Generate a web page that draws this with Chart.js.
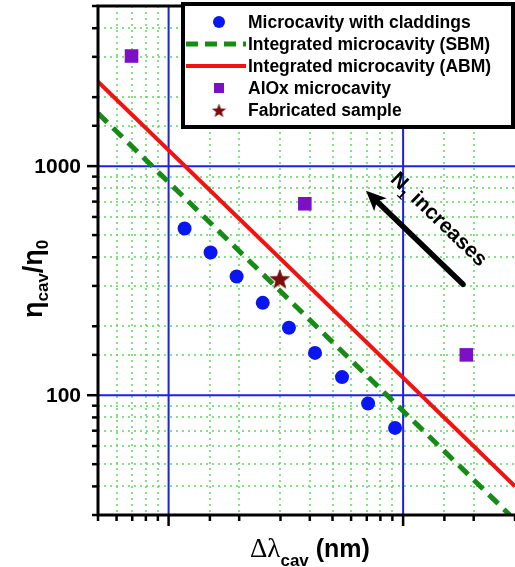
<!DOCTYPE html>
<html>
<head>
<meta charset="utf-8">
<script src="https://cdn.jsdelivr.net/npm/chart.js@4.4.0/dist/chart.umd.min.js"></script>
<style>
  html, body { margin: 0; padding: 0; background: #fff; }
  #wrap { width: 515px; height: 567px; position: relative; }
</style>
</head>
<body>
<div id="wrap"><canvas id="chart"></canvas></div>
<script>
// values (log-log axes)
const cladX = [1.17, 1.51, 1.95, 2.52, 3.26, 4.21, 5.49, 7.09, 9.24];
const cladY = [534, 420, 330, 253, 197, 153, 120, 92, 72];

const sbmX = [0.5, 28.5];
const sbmY = [1700, 30];

const abmX = [0.5, 30];
const abmY = [2335, 40];

const aloxX = [0.695, 3.81, 18.6];
const aloxY = [3024, 685, 150];

const fabX = [2.98];
const fabY = [324];

const yTickLabels = [100, 1000];

const legendLabels = [
  'Microcavity with claddings',
  'Integrated microcavity (SBM)',
  'Integrated microcavity (ABM)',
  'AlOx microcavity',
  'Fabricated sample'
];

// arrow "N1 increases" in data units: tail, tip, text anchor
const arrowTail = [18.0, 305];
const arrowTip = [6.95, 780];
const arrowText = [13.6, 560];

const SANS = '"Liberation Sans", Arial, sans-serif';
const BLUE = '#0a16f2';
const GREEN = '#168c16';
const RED = '#f21212';
const PURPLE = '#7c10c6';
const STAR = '#7a0e0e';

const pts = (xs, ys) => xs.map((v, i) => ({ x: v, y: ys[i] }));

// filled five point star used as a point style
function makeStar(size) {
  const c = document.createElement('canvas');
  c.width = size; c.height = size;
  const g = c.getContext('2d');
  const R = size / 2, r = R * 0.42;
  g.fillStyle = STAR;
  g.beginPath();
  for (let i = 0; i < 10; i++) {
    const rad = i % 2 ? r : R;
    const a = -Math.PI / 2 + i * Math.PI / 5;
    const px = R + rad * Math.cos(a), py = R + 1.5 + rad * Math.sin(a);
    i ? g.lineTo(px, py) : g.moveTo(px, py);
  }
  g.closePath();
  g.fill();
  return c;
}
const starBig = makeStar(22);
const starSmall = makeStar(15);

const isDecade = v => Math.abs(Math.log10(v) - Math.round(Math.log10(v))) < 1e-6;

const gridPlugin = {
  id: 'grid',
  beforeDatasetsDraw(chart) {
    const { ctx, chartArea: a, scales: { x, y } } = chart;
    ctx.save();
    ctx.strokeStyle = '#5ed85e';
    ctx.lineWidth = 1.5;
    ctx.setLineDash([2, 4]);
    x.ticks.forEach(t => {
      if (isDecade(t.value)) return;
      const px = Math.round(x.getPixelForValue(t.value));
      if (px <= a.left + 1 || px >= a.right - 1) return;
      ctx.beginPath(); ctx.moveTo(px, a.top); ctx.lineTo(px, a.bottom); ctx.stroke();
    });
    y.ticks.forEach(t => {
      if (isDecade(t.value)) return;
      const py = Math.round(y.getPixelForValue(t.value));
      if (py <= a.top + 1 || py >= a.bottom - 1) return;
      ctx.beginPath(); ctx.moveTo(a.left, py); ctx.lineTo(a.right, py); ctx.stroke();
    });
    ctx.setLineDash([]);
    ctx.strokeStyle = '#1c22e0';
    ctx.lineWidth = 2;
    x.ticks.filter(t => isDecade(t.value)).forEach(t => {
      const px = x.getPixelForValue(t.value);
      ctx.beginPath(); ctx.moveTo(px, a.top); ctx.lineTo(px, a.bottom); ctx.stroke();
    });
    y.ticks.filter(t => isDecade(t.value)).forEach(t => {
      const py = y.getPixelForValue(t.value);
      ctx.beginPath(); ctx.moveTo(a.left, py); ctx.lineTo(a.right, py); ctx.stroke();
    });
    ctx.restore();
  },
  afterDatasetsDraw(chart) {
    const { ctx, chartArea: a, scales: { x, y } } = chart;
    ctx.save();
    // arrow
    const tx = x.getPixelForValue(arrowTail[0]), ty = y.getPixelForValue(arrowTail[1]);
    const hx = x.getPixelForValue(arrowTip[0]), hy = y.getPixelForValue(arrowTip[1]);
    const ang = Math.atan2(hy - ty, hx - tx);
    const headLen = 20, headW = 9;
    const bx = hx - headLen * Math.cos(ang), by = hy - headLen * Math.sin(ang);
    ctx.strokeStyle = '#000';
    ctx.fillStyle = '#000';
    ctx.lineWidth = 5.5;
    ctx.lineCap = 'round';
    ctx.beginPath(); ctx.moveTo(tx, ty); ctx.lineTo(bx + 4 * Math.cos(ang), by + 4 * Math.sin(ang)); ctx.stroke();
    ctx.beginPath();
    ctx.moveTo(hx, hy);
    ctx.lineTo(bx + headW * Math.sin(ang), by - headW * Math.cos(ang));
    ctx.lineTo(bx + 5 * Math.cos(ang), by + 5 * Math.sin(ang));
    ctx.lineTo(bx - headW * Math.sin(ang), by + headW * Math.cos(ang));
    ctx.closePath();
    ctx.fill();
    // arrow text
    const cx = x.getPixelForValue(arrowText[0]), cy = y.getPixelForValue(arrowText[1]);
    ctx.translate(cx, cy);
    ctx.rotate(ang + Math.PI);
    ctx.textBaseline = 'alphabetic';
    const fBig = 'bold 21px ' + SANS, fSub = 'bold 13px ' + SANS;
    ctx.font = fBig; const wN = ctx.measureText('N').width;
    ctx.font = fSub; const w1 = ctx.measureText('1').width;
    ctx.font = fBig; const wRest = ctx.measureText(' increases').width;
    let sx = -(wN + w1 + wRest) / 2;
    ctx.font = fBig; ctx.fillText('N', sx, 0); sx += wN;
    ctx.font = fSub; ctx.fillText('1', sx, 6); sx += w1;
    ctx.font = fBig; ctx.fillText(' increases', sx, 0);
    ctx.restore();

    // frame, ticks and y tick labels
    ctx.save();
    ctx.strokeStyle = '#000';
    ctx.lineWidth = 3;
    ctx.beginPath();
    ctx.moveTo(a.right, a.top); ctx.lineTo(a.left, a.top);
    ctx.lineTo(a.left, a.bottom); ctx.lineTo(a.right, a.bottom);
    ctx.stroke();
    ctx.lineWidth = 2.5;
    x.ticks.forEach(t => {
      const px = x.getPixelForValue(t.value);
      const len = isDecade(t.value) ? 11 : 6;
      ctx.beginPath(); ctx.moveTo(px, a.bottom); ctx.lineTo(px, a.bottom + len); ctx.stroke();
    });
    y.ticks.forEach(t => {
      const py = y.getPixelForValue(t.value);
      const len = isDecade(t.value) ? 11 : 6;
      ctx.beginPath(); ctx.moveTo(a.left, py); ctx.lineTo(a.left - len, py); ctx.stroke();
    });
    ctx.fillStyle = '#000';
    ctx.font = 'bold 21px ' + SANS;
    ctx.textAlign = 'right';
    ctx.textBaseline = 'middle';
    yTickLabels.forEach(v => {
      ctx.fillText(String(v), a.left - 17, y.getPixelForValue(v) + 1);
    });
    ctx.restore();
  },
  afterDraw(chart) {
    const { ctx } = chart;
    ctx.save();
    ctx.fillStyle = '#000';
    ctx.textBaseline = 'alphabetic';
    // y title: eta_cav / eta_0
    ctx.save();
    ctx.translate(42, 318);
    ctx.rotate(-Math.PI / 2);
    let px = 0;
    const yParts = [
      ['η', 'bold 27px ' + SANS, 0],
      ['cav', 'bold 17px ' + SANS, 6],
      ['/', 'bold 27px ' + SANS, 0],
      ['η', 'bold 27px ' + SANS, 0],
      ['0', 'bold 17px ' + SANS, 6]
    ];
    yParts.forEach(([t, f, dy]) => {
      ctx.font = f; ctx.fillText(t, px, dy); px += ctx.measureText(t).width;
    });
    ctx.restore();
    // x title: delta lambda_cav (nm)
    px = 250;
    const xParts = [
      ['Δλ', '27px "Liberation Serif", "Times New Roman", serif', 0],
      ['cav', 'bold 17px ' + SANS, 9],
      [' (nm)', 'bold 25px ' + SANS, 0]
    ];
    xParts.forEach(([t, f, dy]) => {
      ctx.font = f; ctx.fillText(t, px, 557 + dy); px += ctx.measureText(t).width;
    });

    // legend box
    const L = 183, T = 4, R = 513, B = 127;
    ctx.fillStyle = '#fff';
    ctx.fillRect(L, T, R - L, B - T);
    ctx.strokeStyle = '#000';
    ctx.lineWidth = 4;
    ctx.strokeRect(L, T, R - L, B - T);
    const sx = 219, tx = 248;
    ctx.font = 'bold 17.5px ' + SANS;
    legendLabels.forEach((lab, i) => {
      const base = 28 + i * 22, cy = base - 6;
      ctx.fillStyle = '#000';
      ctx.fillText(lab, tx, base);
      if (i === 0) {
        ctx.fillStyle = BLUE;
        ctx.beginPath(); ctx.arc(sx, cy, 6, 0, Math.PI * 2); ctx.fill();
      } else if (i === 1) {
        ctx.strokeStyle = GREEN; ctx.lineWidth = 5; ctx.setLineDash([12, 7]);
        ctx.beginPath(); ctx.moveTo(186, cy); ctx.lineTo(246, cy); ctx.stroke();
        ctx.setLineDash([]);
      } else if (i === 2) {
        ctx.strokeStyle = RED; ctx.lineWidth = 4;
        ctx.beginPath(); ctx.moveTo(186, cy); ctx.lineTo(246, cy); ctx.stroke();
      } else if (i === 3) {
        ctx.fillStyle = PURPLE;
        ctx.fillRect(sx - 5, cy - 5, 10, 10);
      } else {
        ctx.drawImage(starSmall, sx - 7.5, cy - 8);
      }
    });
    ctx.restore();
  }
};

new Chart(document.getElementById('chart'), {
  type: 'scatter',
  data: {
    datasets: [
      {
        label: legendLabels[4],
        data: pts(fabX, fabY),
        pointStyle: starBig,
        pointRadius: 11
      },
      {
        label: legendLabels[0],
        data: pts(cladX, cladY),
        pointStyle: 'circle',
        pointRadius: 7,
        backgroundColor: BLUE,
        borderWidth: 0
      },
      {
        label: legendLabels[3],
        data: pts(aloxX, aloxY),
        pointStyle: 'rect',
        pointRadius: 9.6,
        backgroundColor: PURPLE,
        borderWidth: 0
      },
      {
        label: legendLabels[2],
        data: pts(abmX, abmY),
        showLine: true,
        borderColor: RED,
        borderWidth: 4,
        pointRadius: 0
      },
      {
        label: legendLabels[1],
        data: pts(sbmX, sbmY),
        showLine: true,
        borderColor: GREEN,
        borderWidth: 5,
        borderDash: [13, 8],
        pointRadius: 0
      }
    ]
  },
  options: {
    responsive: true,
    maintainAspectRatio: false,
    animation: false,
    layout: { autoPadding: false, padding: { top: 6, right: 0, left: 0, bottom: 0 } },
    plugins: {
      legend: { display: false },
      tooltip: { enabled: false }
    },
    scales: {
      x: {
        type: 'logarithmic',
        min: 0.5,
        max: 30,
        grid: { display: false },
        border: { display: false },
        ticks: { display: false },
        afterFit: s => { s.height = 52; }
      },
      y: {
        type: 'logarithmic',
        min: 30,
        max: 5000,
        grid: { display: false },
        border: { display: false },
        ticks: { display: false },
        afterFit: s => { s.width = 98; }
      }
    }
  },
  plugins: [gridPlugin]
});
</script>
</body>
</html>
